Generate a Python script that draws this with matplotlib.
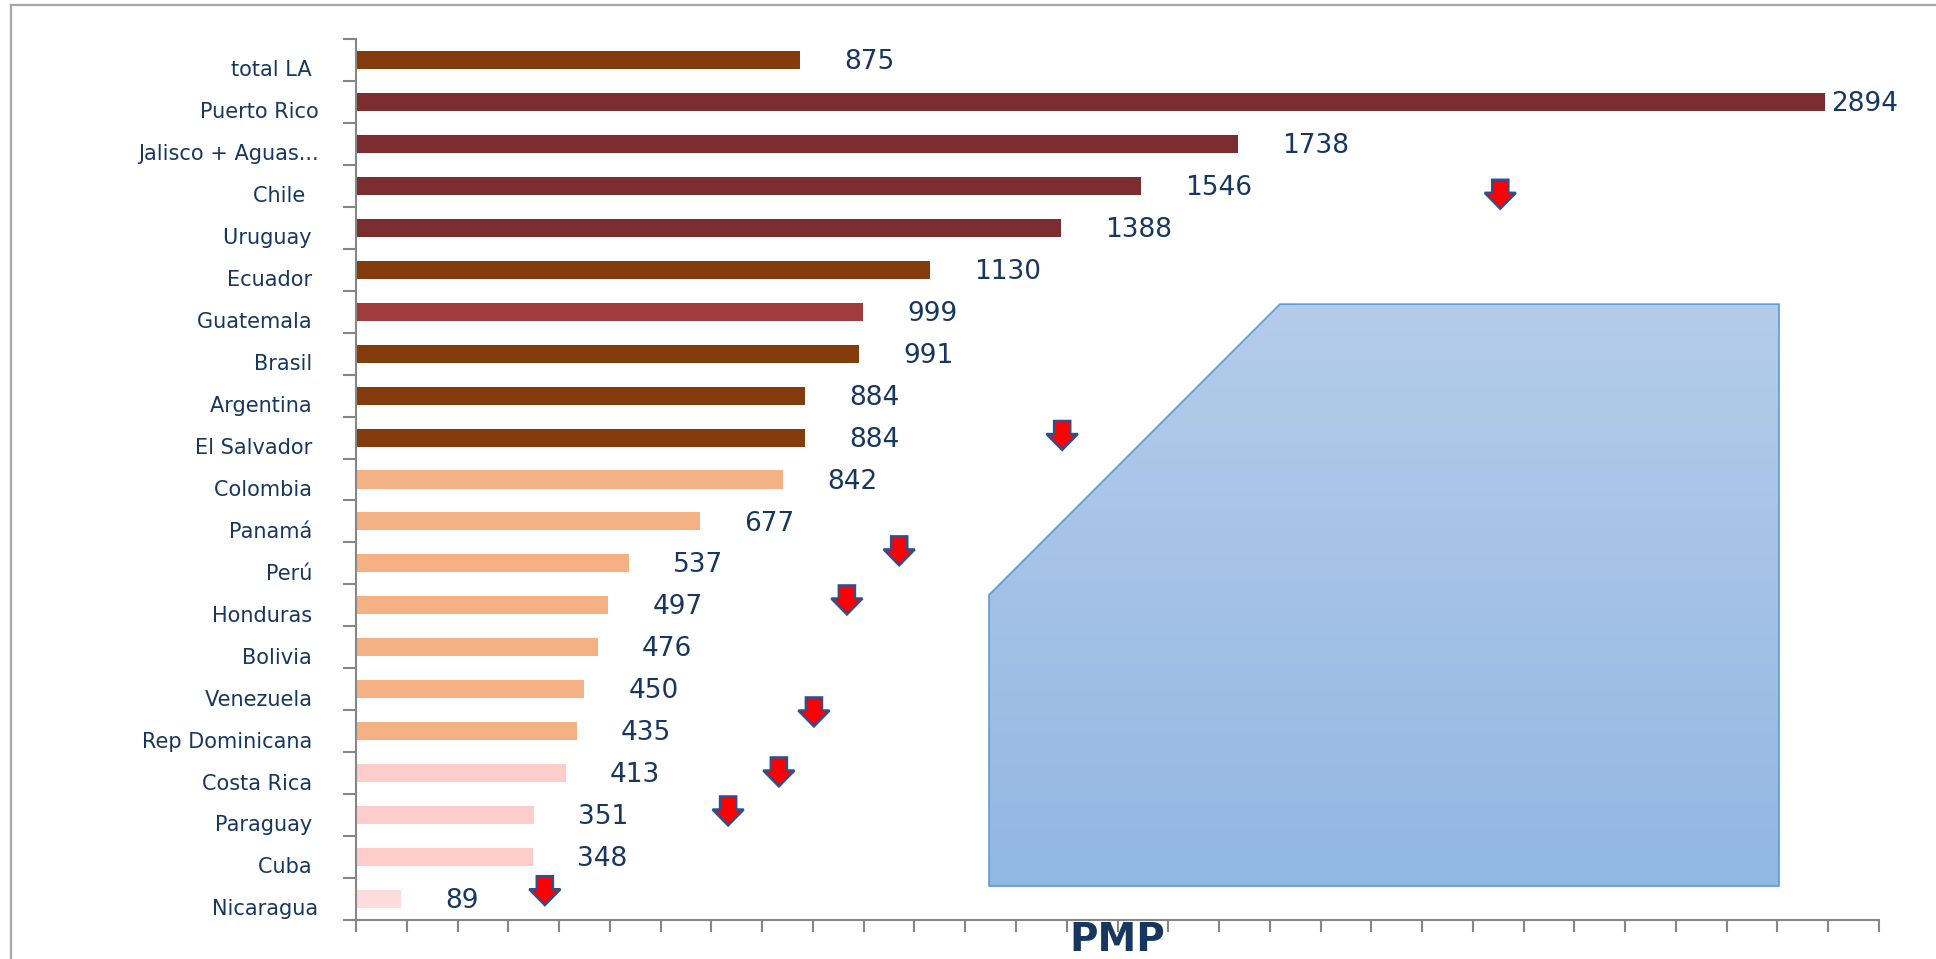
import numpy as np
import matplotlib
matplotlib.use('Agg')
import matplotlib.pyplot as plt
import matplotlib.transforms as mtransforms
from matplotlib.patches import Polygon
from matplotlib.lines import Line2D
from matplotlib.colors import LinearSegmentedColormap

# --- Data (top to bottom) ---
countries = ['total LA ', 'Puerto Rico', 'Jalisco + Aguas...', 'Chile  ', 'Uruguay ',
             'Ecuador ', 'Guatemala ', 'Brasil ', 'Argentina ', 'El Salvador ',
             'Colombia ', 'Panamá ', 'Perú ', 'Honduras ', 'Bolivia ', 'Venezuela ',
             'Rep Dominicana ', 'Costa Rica ', 'Paraguay ', 'Cuba ', 'Nicaragua']
pmp = [875, 2894, 1738, 1546, 1388, 1130, 999, 991, 884, 884,
       842, 677, 537, 497, 476, 450, 435, 413, 351, 348, 89]

BROWN, MAROON, RED = '#843C0C', '#7B2D30', '#A23B3B'
PEACH, PINK, LIGHT_PINK = '#F4B183', '#FFCCCC', '#FFDCDC'
bar_colors = [BROWN, MAROON, MAROON, MAROON, MAROON, BROWN, RED, BROWN, BROWN, BROWN,
              PEACH, PEACH, PEACH, PEACH, PEACH, PEACH, PEACH, PINK, PINK, PINK, LIGHT_PINK]

# decorative red arrows: (PMP value, row index)
arrow_x = [2254, 1391, 1070, 967, 902, 833, 733, 372]
arrow_row = [3.2, 8.95, 11.7, 12.87, 15.54, 16.97, 17.9, 19.8]

# snipped-corner blue box (data coords)
box_x = [1820, 2803, 2803, 1247, 1247]
box_y = [5.82, 5.82, 19.69, 19.69, 12.75]

TEXT = '#17375E'
AXIS = '#868686'
XMAX = 3000

W, H = 1936, 959
fig = plt.figure(figsize=(W / 100, H / 100), dpi=100)
ax = fig.add_axes([356 / W, 1 - 920 / H, (1879 - 356) / W, (920 - 39) / H])

y = np.arange(len(countries))
ax.barh(y, pmp, height=0.43, color=bar_colors, zorder=2)

for i, v in enumerate(pmp):
    off = 4 if v > 0.9 * XMAX else 31.7
    ax.annotate(str(v), xy=(v, i), xytext=(off, -1.5), textcoords='offset points',
                ha='left', va='center', fontsize=19, color=TEXT)

# blue box with vertical gradient
poly = Polygon(list(zip(box_x, box_y)), closed=True, facecolor='none',
               edgecolor='#5B9BD5', linewidth=1.2, zorder=4)
ax.add_patch(poly)
cmap = LinearSegmentedColormap.from_list('box', ['#B4CCE9', '#92B7E3'])
img = ax.imshow(np.linspace(0, 1, 256).reshape(-1, 1), cmap=cmap, aspect='auto',
                extent=[min(box_x), max(box_x), max(box_y), min(box_y)],
                origin='upper', zorder=3)
img.set_clip_path(poly)

ax.set_xlim(0, XMAX)
ax.set_ylim(len(countries) - 0.5, -0.5)

# axes styling
for s in ['top', 'right']:
    ax.spines[s].set_visible(False)
for s in ['left', 'bottom']:
    ax.spines[s].set_color(AXIS)
    ax.spines[s].set_linewidth(1.5)

ax.set_yticks(y)
ax.set_yticklabels(countries, fontsize=15, color=TEXT)
ax.set_yticks(np.arange(-0.5, len(countries)), minor=True)
ax.tick_params(axis='y', which='major', length=0, pad=27)
ax.tick_params(axis='y', which='minor', length=9.4, width=1.5, color=AXIS, direction='out')
shift = mtransforms.ScaledTranslation(0, -6 / 72, fig.dpi_scale_trans)
for lab in ax.get_yticklabels():
    lab.set_transform(lab.get_transform() + shift)

ax.set_xticks(np.arange(0, XMAX + 1, 100))
ax.tick_params(axis='x', which='major', length=8.6, width=1.5, color=AXIS,
               direction='out', labelbottom=False)
ax.set_xlabel('PMP', fontsize=28, fontweight='bold', color=TEXT, va='top')
ax.xaxis.set_label_coords(0.5, -0.001)

# red arrows
arrow_shape = [(-5.8, 10.4), (5.8, 10.4), (5.8, 1.0), (11.2, 1.0), (0, -10.4),
               (-11.2, 1.0), (-5.8, 1.0)]
for ax_x, ax_r in zip(arrow_x, arrow_row):
    tr = (mtransforms.Affine2D().scale(1 / 72.) + fig.dpi_scale_trans
          + mtransforms.ScaledTranslation(ax_x, ax_r, ax.transData))
    ax.add_patch(Polygon(arrow_shape, closed=True, facecolor='#FF0000',
                         edgecolor='#2F4F8F', linewidth=1.8, transform=tr,
                         clip_on=False, zorder=5))

# outer chart border
fig.add_artist(Line2D([11 / W, 1.0], [1 - 5 / H, 1 - 5 / H], color='#A6A6A6', linewidth=1.6))
fig.add_artist(Line2D([11 / W, 11 / W], [0, 1 - 5 / H], color='#A6A6A6', linewidth=1.6))

fig.savefig('out.png', dpi=100, facecolor='white')
